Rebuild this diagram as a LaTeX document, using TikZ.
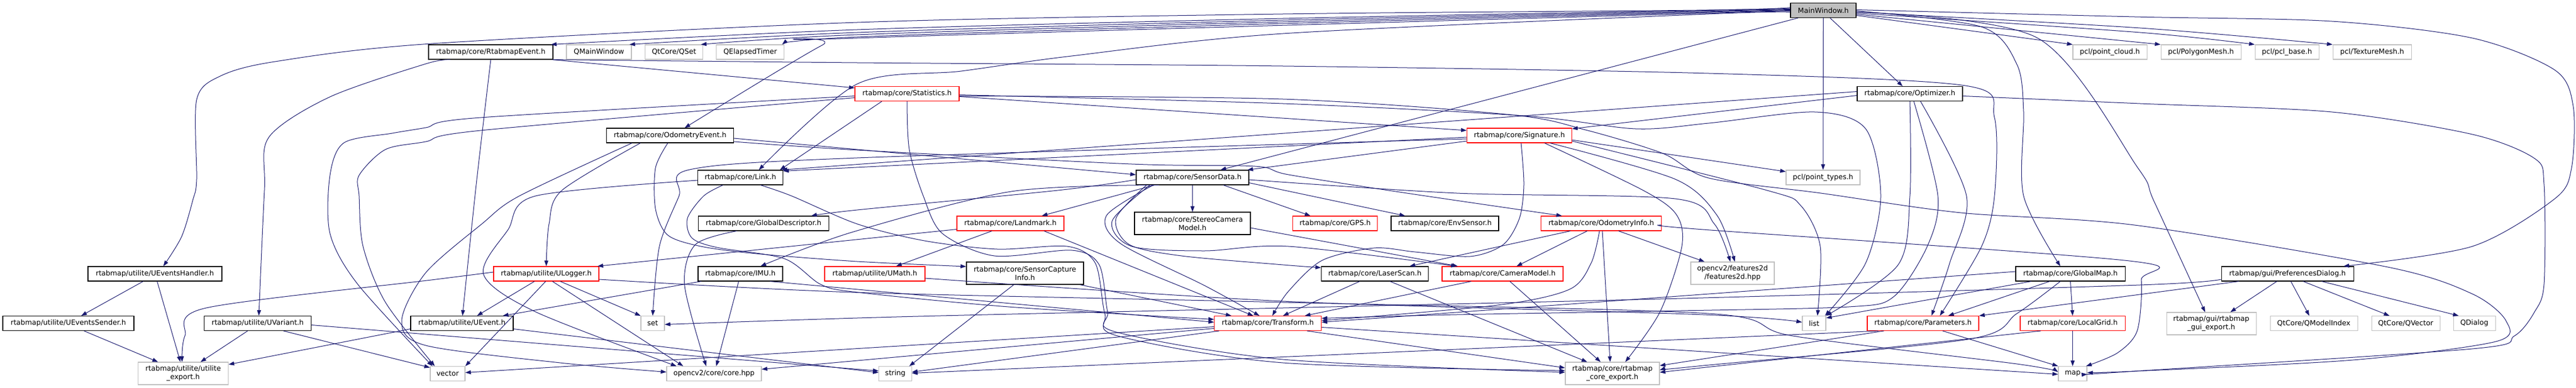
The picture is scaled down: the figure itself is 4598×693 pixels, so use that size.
\documentclass[tikz,border=0pt]{standalone}
\usepackage{fontspec}
\setmainfont{DejaVu Sans}
\usetikzlibrary{arrows.meta}
\definecolor{edgec}{HTML}{191970}
\definecolor{greyc}{HTML}{BFBFBF}
\tikzset{
  nd/.style={draw=black, line width=1.1pt, fill=white, minimum height=26pt, inner sep=0pt, font=\fontsize{12.6pt}{15pt}\selectfont, align=center, text=black},
  ndred/.style={nd, draw=red},
  ndext/.style={nd, draw=greyc},
  ndroot/.style={nd, fill=greyc},
  two/.style={minimum height=40pt},
  wd/.style={minimum width=#1pt},
  e/.style={draw=edgec, line width=1pt, -{Triangle[length=10pt,width=7pt]}},
}
\begin{document}
\begin{tikzpicture}[x=1pt,y=-1pt]
\useasboundingbox (0,0) rectangle (4598,693);
\fill[white] (0,0) rectangle (4598,693);
% ---------------- nodes
\node[ndroot,wd=117] (mw) at (3254.5,18.5) {MainWindow.h};
\node[nd,wd=222] (rev) at (876,93) {rtabmap/core/RtabmapEvent.h};
\node[ndext,wd=116] (qmw) at (1069,93) {QMainWindow};
\node[ndext,wd=103] (qset) at (1203,93) {QtCore/QSet};
\node[ndext,wd=121] (qet) at (1339,93) {QElapsedTimer};
\node[ndext,wd=132] (pcloud) at (3766,93) {pcl/point\_cloud.h};
\node[ndext,wd=143] (pmesh) at (3928.5,93) {pcl/PolygonMesh.h};
\node[ndext,wd=114] (pbase) at (4082,93) {pcl/pcl\_base.h};
\node[ndext,wd=140] (tmesh) at (4234,93) {pcl/TextureMesh.h};
\node[ndred,wd=186] (stat) at (1619,167.5) {rtabmap/core/Statistics.h};
\node[nd,wd=188] (opt) at (3409,167.5) {rtabmap/core/Optimizer.h};
\node[nd,wd=227] (oev) at (1196,242) {rtabmap/core/OdometryEvent.h};
\node[ndred,wd=187] (sig) at (2712,242) {rtabmap/core/Signature.h};
\node[nd,wd=152] (link) at (1321.5,317) {rtabmap/core/Link.h};
\node[nd,wd=201] (sd) at (2128.5,317) {rtabmap/core/SensorData.h};
\node[ndext,wd=132] (ptypes) at (3254,317) {pcl/point\_types.h};
\node[nd,wd=233] (gdesc) at (1363,399) {rtabmap/core/GlobalDescriptor.h};
\node[ndred,wd=191] (lmk) at (1803.5,399) {rtabmap/core/Landmark.h};
\node[nd,two,wd=207] (scm) at (2128.5,399) {rtabmap/core/StereoCamera\\Model.h};
\node[ndred,wd=151] (gps) at (2383,399) {rtabmap/core/GPS.h};
\node[nd,wd=192] (env) at (2579,399) {rtabmap/core/EnvSensor.h};
\node[ndred,wd=215] (oinfo) at (2858,399) {rtabmap/core/OdometryInfo.h};
\node[nd,wd=239] (ueh) at (276.5,489) {rtabmap/utilite/UEventsHandler.h};
\node[ndred,wd=188] (ulog) at (975,489) {rtabmap/utilite/ULogger.h};
\node[nd,wd=151] (imu) at (1321.5,489) {rtabmap/core/IMU.h};
\node[ndred,wd=179] (umath) at (1561.5,489) {rtabmap/utilite/UMath.h};
\node[nd,two,wd=209] (sci) at (1829.5,488) {rtabmap/core/SensorCapture\\Info.h};
\node[nd,wd=191] (lscan) at (2454,489) {rtabmap/core/LaserScan.h};
\node[ndred,wd=216] (cam) at (2682,489) {rtabmap/core/CameraModel.h};
\node[ndext,two,wd=149] (f2d) at (3092.5,488) {opencv2/features2d\\/features2d.hpp};
\node[nd,wd=195] (gmap) at (3695.5,489) {rtabmap/core/GlobalMap.h};
\node[nd,wd=236] (pref) at (4083,489) {rtabmap/gui/PreferencesDialog.h};
\node[nd,wd=234] (ues) at (122,577.5) {rtabmap/utilite/UEventsSender.h};
\node[nd,wd=191] (uvar) at (460,577.5) {rtabmap/utilite/UVariant.h};
\node[nd,wd=183] (uev) at (824.5,577.5) {rtabmap/utilite/UEvent.h};
\node[ndext,wd=42] (nset) at (1165,577.5) {set};
\node[ndred,wd=191] (tf) at (2263,577.5) {rtabmap/core/Transform.h};
\node[ndext,wd=42] (nlist) at (3238,577.5) {list};
\node[ndred,wd=199] (params) at (3432.5,577.5) {rtabmap/core/Parameters.h};
\node[ndred,wd=187] (lgrid) at (3699.5,577.5) {rtabmap/core/LocalGrid.h};
\node[ndext,two,wd=160] (gexp) at (3947,578) {rtabmap/gui/rtabmap\\\_gui\_export.h};
\node[ndext,wd=156] (qmi) at (4130,577.5) {QtCore/QModelIndex};
\node[ndext,wd=122] (qvec) at (4294,577.5) {QtCore/QVector};
\node[ndext,wd=75] (qdlg) at (4416.5,577.5) {QDialog};
\node[ndext,two,wd=161] (uexp) at (327,667) {rtabmap/utilite/utilite\\\_export.h};
\node[ndext,wd=62] (nvec) at (799,667.5) {vector};
\node[ndext,wd=169] (cvcore) at (1274.5,667.5) {opencv2/core/core.hpp};
\node[ndext,wd=58.5] (nstr) at (1598,667.5) {string};
\node[ndext,two,wd=168] (cexp) at (2878,667) {rtabmap/core/rtabmap\\\_core\_export.h};
\node[ndext,wd=51] (nmap) at (3699.5,667.5) {map};
% ---------------- edges: MainWindow
\draw[e] plot[smooth] coordinates {([yshift=3]mw.west) (2290,33) (1530,53) ([xshift=-4]rev.north east)};
\draw[e] plot[smooth] coordinates {([yshift=2]mw.west) (2290,36) (1530,58) ([xshift=-4]qmw.north east)};
\draw[e] plot[smooth] coordinates {([yshift=1]mw.west) (2290,39) (1530,62) ([xshift=-4]qset.north east)};
\draw[e] plot[smooth] coordinates {(mw.west) (2290,42) (1530,66) ([xshift=-4]qet.north east)};
\draw[e] plot[smooth] coordinates {([yshift=5]mw.west) (3050,18) (2290,25) (1530,40) (770,78) (491,110) (393,136) (351,178) (351,320) (344,358) (324,423) ([xshift=15]ueh.north)};
\draw[e] plot[smooth] coordinates {([yshift=-1]mw.west) (1530,68) (1467,81) ([xshift=26]oev.north)};
\draw[e] plot[smooth] coordinates {([yshift=-3]mw.west) (3050,25) (2290,60) (1913,100) (1716,127) (1530,150) ([xshift=33]link.north)};
\draw[e] ([xshift=-45]mw.south) -- ([xshift=50]sd.north);
\draw[e] (mw.south) -- (ptypes.north);
\draw[e] ([xshift=12]mw.south) -- ([xshift=-13]opt.north);
\draw[e] ([yshift=-9]mw.east) -- (pcloud.north west);
\draw[e] ([yshift=-7]mw.east) -- (pmesh.north west);
\draw[e] plot[smooth] coordinates {([yshift=-5]mw.east) (3820,58) (pbase.north west)};
\draw[e] plot[smooth] coordinates {([yshift=-3]mw.east) (3820,50) (tmesh.north west)};
\draw[e] plot[smooth] coordinates {([yshift=1]mw.east) (3810,30) (4162,38) (4413,68) (4560,125) (4593,190) (4590,300) (4560,355) (4413,440) ([xshift=100]pref.north)};
\draw[e] plot[smooth] coordinates {([yshift=-1]mw.east) (3537,48) (3600,115) (3612,200) (3612,350) ([xshift=-18]gmap.north)};
\draw[e] plot[smooth] coordinates {([yshift=-3]mw.east) (3637,68) (3816,300) (3845,360) ([xshift=-11]gexp.north)};
% RtabmapEvent
\draw[e] ([xshift=-2]rev.south east) -- ([yshift=-3]stat.north west);
\draw[e] plot[smooth] coordinates {([xshift=40]rev.south west) (760,114) (589,173) (480,245) (472,340) ([xshift=2]uvar.north)};
\draw[e] plot[smooth] coordinates {(rev.south) (850,330) ([xshift=1]uev.north)};
\draw[e] plot[smooth] coordinates {([xshift=-1]rev.south east) (1530,112) (2290,118) (3050,131) (3508,153) (3560,210) (3560,350) (3537,440) ([xshift=30]params.north)};
% Statistics
\draw[e] ([yshift=-5]stat.east) -- ([yshift=9]sig.west);
\draw[e] ([xshift=-45]stat.south) -- ([xshift=-6]link.north east);
\draw[e] plot[smooth] coordinates {([yshift=-4]stat.west) (858,210) (760,228) (700,238) (614,255) (589,313) (589,417) (638,507) ([xshift=-27]nvec.north)};
\draw[e] plot[smooth] coordinates {([yshift=-7]stat.west) (858,233) (760,253) (688,267) (641,313) (641,350) (648,440) (688,540) ([xshift=-23]nvec.north)};
\draw[e] plot[smooth] coordinates {([yshift=-2]stat.east) (2290,185) (2722,207) (2919,230) (3050,220) (3239,200) (3330,230) (3357,350) (3330,470) ([xshift=-2]nlist.north east)};
\draw[e] plot[smooth] coordinates {([yshift=-4]stat.east) (2290,177) (2697,205) (2830,232) (2968,274) (3050,318) (3250,345) (3500,380) (3810,402) (4262,477) (4413,525) (4473,573) (4455,610) (4200,643) (3810,663) ([yshift=2]nmap.east)};
\draw[e] plot[smooth] coordinates {(stat.south) (1623,267) (1648,350) (1682,417) (1775,457) (1913,447) (1962,473) (1977,557) (1992,593) (2290,642) ([yshift=2]cexp.west)};
% OdometryEvent
\draw[e] ([yshift=-5]oev.east) -- ([yshift=5]sd.west);
\draw[e] plot[smooth] coordinates {([yshift=-11]oev.east) (1530,268) (2020,293) (2240,297) (2300,312) (2511,345) ([xshift=-70]oinfo.north)};
\draw[e] plot[smooth] coordinates {([xshift=-4]oev.south) (1170,300) (1170,373) (1192,420) (1251,440) (1349,453) (1530,467) ([yshift=12]sci.west)};
\draw[e] plot[smooth] coordinates {([xshift=-68]oev.south) (927,350) (860,400) (760,487) (717,573) (760,617) (1000,648) ([yshift=3]cvcore.west)};
\draw[e] plot[smooth] coordinates {([xshift=-53]oev.south) (1003,340) (980,400) (ulog.north)};
% Link
\draw[e] plot[smooth] coordinates {([yshift=-5]link.west) (956,350) (907,410) (863,490) (956,557) ([xshift=-67]cvcore.north)};
\draw[e] plot[smooth] coordinates {([xshift=-31]link.south) (1256,350) (1227,390) (1235,425) (1280,442) (1400,462) (1465,508) (1530,522) (1800,548) ([yshift=7]tf.west)};
\draw[e] plot[smooth] coordinates {([xshift=36]link.south) (1413,350) (1530,400) (1650,430) (1780,445) (1905,440) (1955,470) (1972,560) (1995,600) (2290,648) ([yshift=5]cexp.west)};
% Signature / Optimizer
\draw[e] ([yshift=-3]sig.west) -- ([yshift=-2]link.north east);
\draw[e] ([yshift=4]opt.west) -- ([xshift=-3]link.north east);
\draw[e] ([yshift=-3]opt.west) -- ([yshift=12]sig.east);
\draw[e] ([yshift=-10]sig.west) -- ([xshift=-3]sd.north east);
\draw[e] plot[smooth] coordinates {([yshift=-6]sig.west) (1530,282) (1231,303) (1212,350) (1177,440) (nset.north)};
\draw[e] ([yshift=-8]sig.east) -- ([yshift=-3]ptypes.north west);
\draw[e] plot[smooth] coordinates {([xshift=55]sig.south) (2990,320) (3065,385) ([xshift=4]f2d.north)};
\draw[e] plot[smooth] coordinates {([xshift=45]sig.south) (2933,340) (2992,383) (3002,440) (2963,557) ([xshift=23]cexp.north)};
\draw[e] plot[smooth] coordinates {([yshift=-10]sig.east) (3154,340) (3214,367) (3249,440) ([xshift=6]nlist.north)};
\draw[e] plot[smooth] coordinates {([xshift=3]sig.south) (2720,330) (2712,390) (2683,437) (2624,458) (2526,450) (2452,443) (2360,465) (2300,520) ([xshift=8]tf.north)};
\draw[e] plot[smooth] coordinates {(opt.south) (3409,350) (3388,473) (nlist.north east)};
\draw[e] plot[smooth] coordinates {([xshift=7]opt.south) (3459,350) (3440,440) (3380,530) (3300,548) (3000,555) (2600,562) ([yshift=9]tf.east)};
\draw[e] plot[smooth] coordinates {([xshift=19]opt.south) (3510,350) (3480,470) ([xshift=15]params.north)};
\draw[e] plot[smooth] coordinates {([yshift=-4]opt.east) (3820,185) (4162,200) (4413,240) (4524,283) (4541,330) (4541,507) (4524,557) (4488,600) (4413,623) (3810,663) ([yshift=-1]nmap.east)};
% SensorData
\draw[e] (sd.south) -- (scm.north);
\draw[e] plot[smooth] coordinates {([yshift=-4]sd.west) (1888,340) (1530,375) ([xshift=85]gdesc.north)};
\draw[e] plot[smooth] coordinates {([xshift=-60]sd.south) (1805,342) (1520,415) ([xshift=36]imu.north)};
\draw[e] ([xshift=-68]sd.south) -- ([xshift=-40]lmk.north east);
\draw[e] ([xshift=55]sd.south) -- ([xshift=-44]gps.north);
\draw[e] ([yshift=4]sd.south east) -- ([xshift=-71]env.north);
\draw[e] plot[smooth] coordinates {([xshift=-82]sd.south) (1992,390) (2016,437) (2109,457) (2290,473) ([yshift=11]lscan.west)};
\draw[e] plot[smooth] coordinates {([xshift=-76]sd.south) (1985,395) (2020,440) (2150,448) (2300,440) ([xshift=-82]cam.north)};
\draw[e] ([yshift=-8]scm.east) -- ([xshift=-80]cam.north);
\draw[e] plot[smooth] coordinates {([xshift=-70]sd.south) (1975,385) (2000,435) (2150,510) ([xshift=-15]tf.north)};
\draw[e] plot[smooth] coordinates {([yshift=-4]sd.east) (2600,345) (2990,355) (3060,400) ([xshift=-4]f2d.north)};
% OdometryInfo
\draw[e] ([xshift=-55]oinfo.south) -- ([xshift=62]lscan.north);
\draw[e] ([xshift=-25]oinfo.south) -- ([xshift=25]cam.north);
\draw[e] plot[smooth] coordinates {([xshift=-3]oinfo.south) (2840,470) (2801,517) (2673,545) ([yshift=5]tf.east)};
\draw[e] ([xshift=2]oinfo.south) -- ([xshift=-4]cexp.north);
\draw[e] ([xshift=31]oinfo.south) -- ([xshift=-50]f2d.north);
\draw[e] plot[smooth] coordinates {([yshift=-3]oinfo.east) (3040,410) (3801,466) (3822,500) (3815,590) (3780,630) ([xshift=-2]nmap.north east)};
% LaserScan, CameraModel
\draw[e] ([xshift=-27]lscan.south) -- ([xshift=27]tf.north);
\draw[e] ([xshift=27]lscan.south) -- ([xshift=-45]cexp.north);
\draw[e] ([xshift=-56]cam.south) -- ([xshift=66]tf.north);
\draw[e] ([xshift=13]cam.south) -- ([xshift=-21]cexp.north);
% Transform
\draw[e] ([yshift=-6]tf.west) -- ([yshift=2]nvec.east);
\draw[e] ([xshift=-87]tf.south) -- ([yshift=3]nstr.east);
\draw[e] ([yshift=-9]tf.west) -- ([yshift=8]cvcore.east);
\draw[e] ([xshift=70]tf.south) -- ([yshift=10]cexp.west);
\draw[e] ([yshift=-7]tf.east) -- ([yshift=-1]nmap.west);
% GlobalMap, LocalGrid, Parameters
\draw[e] ([xshift=-37]gmap.south) -- ([xshift=45]params.north);
\draw[e] (gmap.south) -- (lgrid.north);
\draw[e] ([yshift=4]gmap.west) -- ([yshift=2]tf.east);
\draw[e] ([xshift=-70]gmap.south) -- ([yshift=-4]nlist.north east);
\draw[e] plot[smooth] coordinates {([xshift=-18]gmap.south) (3600,560) (3513,606) (3040,653) ([yshift=6]cexp.east)};
\draw[e] (lgrid.south) -- (nmap.north);
\draw[e] ([xshift=-57]lgrid.south) -- ([yshift=2]cexp.east);
\draw[e] ([xshift=35]params.south) -- (nmap.north west);
\draw[e] ([xshift=-70]params.south) -- ([yshift=14]cexp.east);
\draw[e] ([xshift=-80]params.south) -- ([yshift=1]nstr.east);
% PreferencesDialog
\draw[e] ([xshift=-87]pref.south) -- (params.north east);
\draw[e] plot[smooth] coordinates {([yshift=-10]pref.west) (3820,509) (3040,532) (2290,550) (1600,566) ([yshift=-2]nset.east)};
\draw[e] ([xshift=-19]pref.south) -- ([xshift=34]gexp.north);
\draw[e] ([xshift=6]pref.south) -- ([xshift=-8]qmi.north);
\draw[e] ([xshift=28]pref.south) -- ([xshift=-29]qvec.north);
\draw[e] ([xshift=61]pref.south) -- ([xshift=-28]qdlg.north);
% utilite
\draw[e] ([xshift=-21]ueh.south) -- ([xshift=23]ues.north);
\draw[e] ([xshift=4]ueh.south) -- ([xshift=-5]uexp.north);
\draw[e] ([xshift=28]ues.south) -- ([xshift=-45]uexp.north);
\draw[e] ([xshift=-18]uvar.south) -- ([xshift=31]uexp.north);
\draw[e] plot[smooth] coordinates {([yshift=3]ulog.west) (770,500) (368,550) (330,600) ([xshift=-2]uexp.north)};
\draw[e] ([yshift=-10]uev.west) -- ([yshift=16]uexp.east);
\draw[e] ([xshift=46]uvar.south) -- ([yshift=11]nvec.west);
\draw[e] ([yshift=-3]uvar.east) -- ([yshift=5]nstr.west);
\draw[e] ([yshift=-10]uev.east) -- ([yshift=2]nstr.west);
\draw[e] ([xshift=-21]ulog.south) -- ([xshift=27]uev.north);
\draw[e] ([xshift=-1]ulog.south) -- (nvec.north east);
\draw[e] ([xshift=25]ulog.south) -- (nset.north west);
\draw[e] ([xshift=11]ulog.south) -- ([xshift=-55]cvcore.north);
\draw[e] plot[smooth] coordinates {([yshift=-10]ulog.east) (1520,522) (2290,540) (3050,560) (3200,600) (3600,650) ([yshift=3]nmap.west)};
% GlobalDescriptor, IMU, Landmark, UMath, SensorCaptureInfo
\draw[e] plot[smooth] coordinates {([xshift=-48]gdesc.south) (1241,437) (1222,510) ([xshift=-14]cvcore.north)};
\draw[e] ([xshift=-3]imu.south) -- ([xshift=4]cvcore.north);
\draw[e] ([xshift=53]imu.south) -- ([yshift=2]tf.west);
\draw[e] ([xshift=-70]imu.south) -- ([xshift=73]uev.north);
\draw[e] ([xshift=-33]lmk.south) -- ([xshift=38]umath.north);
\draw[e] ([yshift=3]lmk.south west) -- ([xshift=-3]ulog.north east);
\draw[e] ([xshift=60]lmk.south) -- ([xshift=-26]tf.north);
\draw[e] plot[smooth] coordinates {([yshift=-8]umath.east) (2290,538) (3040,562) ([yshift=2]nlist.west)};
\draw[e] ([xshift=-20]sci.south) -- ([xshift=25]nstr.north);
\draw[e] ([xshift=98]sci.south) -- ([xshift=-65]tf.north);
\end{tikzpicture}
\end{document}
